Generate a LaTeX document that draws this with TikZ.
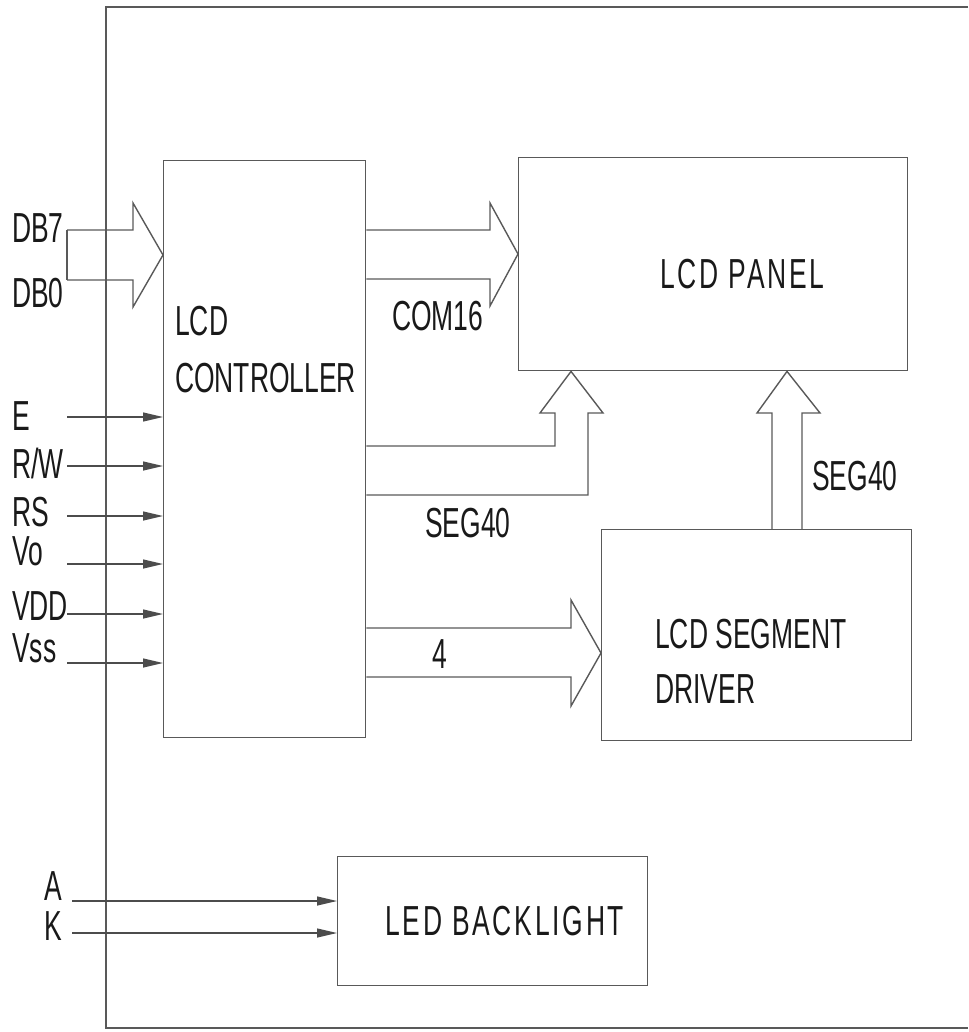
\documentclass[tikz,border=0pt]{standalone}
\usepackage{fontspec}
\setmainfont{Liberation Sans}[FakeStretch=0.63]
\newfontfamily\widefont{Liberation Sans}[FakeStretch=0.63,LetterSpace=6.5]
\usetikzlibrary{arrows.meta}
\tikzset{
  ln/.style={draw=black!65, line width=1.4pt, line join=miter},
  box/.style={ln, rectangle, inner sep=0pt, anchor=north west},
  lbl/.style={inner sep=0pt, anchor=base west, text=black!90, font=\fontsize{42}{48}\selectfont},
  lblc/.style={lbl, anchor=base},
  inarrow/.style={draw=black!70, line width=1.2pt, -{Triangle[length=20pt,width=9pt]}},
}
\begin{document}
\begin{tikzpicture}[x=1pt,y=-1pt]
\useasboundingbox (0,0) rectangle (968,1032);
% outer frame
\draw[ln] (968,7) -- (106,7) -- (106,1028) -- (968,1028);
% boxes
\node[box, minimum width=202pt, minimum height=577pt] (ctrl) at (163,160) {};
\node[box, minimum width=389pt, minimum height=213pt] (panel) at (518,157) {};
\node[box, minimum width=310pt, minimum height=211pt] (drv) at (601,529) {};
\node[box, minimum width=310pt, minimum height=129pt] (led) at (337,856) {};
% box texts
\node[lbl] (t1) at (175,335) {LCD};
\node[lbl] (t2) at (175,392) {CONTROLLER};
\node[lbl, font=\fontsize{42}{48}\widefont] (t3) at (660,288) {LCD PANEL};
\node[lbl] (t4) at (655,648) {LCD SEGMENT};
\node[lbl] (t5) at (655,703) {DRIVER};
\node[lbl, font=\fontsize{42}{48}\widefont] (t6) at (385,935) {LED BACKLIGHT};
% data bus block arrow
\coordinate (db7) at (67,230);
\coordinate (db0) at (67,280);
\draw[ln] (db7) -- (db0);
\draw[ln] (db7) -- (133,230) -- (133,203) -- (ctrl.west |- 0,255) -- (133,307) -- (133,280) -- (db0);
\node[lbl] (ldb7) at (12,243) {DB7};
\node[lbl] (ldb0) at (12,307) {DB0};
% COM16 block arrow
\draw[ln] (ctrl.east |- 0,230) -- (490,230) -- (490,203) -- (panel.west |- 0,254) -- (490,306) -- (490,279) -- (ctrl.east |- 0,279);
\node[lbl] (lcom) at (392,330) {COM16};
% SEG40 controller -> panel
\draw[ln] (ctrl.east |- 0,446) -- (555,446) -- (555,413) -- (540,413) -- (panel.south -| 571,0) -- (603,413) -- (588,413) -- (588,495) -- (ctrl.east |- 0,495);
\node[lbl] (lseg1) at (425,537) {SEG40};
% SEG40 driver -> panel
\draw[ln] (drv.north -| 772,0) -- (772,413) -- (757,413) -- (panel.south -| 787,0) -- (820,413) -- (802,413) -- (drv.north -| 802,0);
\node[lbl] (lseg2) at (812,490) {SEG40};
% 4 arrow controller -> driver
\draw[ln] (ctrl.east |- 0,628) -- (571,628) -- (571,600) -- (drv.west |- 0,653) -- (571,706) -- (571,677) -- (ctrl.east |- 0,677);
\node[lbl] (lfour) at (432,668) {4};
% control inputs
\foreach \nm/\ay/\ty/\tx in {E/417/430/{E}, RW/466/478/{R/W}, RS/516/526/{RS}, Vo/564/565/{Vo}, VDD/614/620/{VDD}, Vss/663/662/{Vss}}{
  \coordinate (in\nm) at (67,\ay);
  \draw[inarrow] (in\nm) -- (in\nm -| ctrl.west);
  \node[lbl] (l\nm) at (12,\ty) {\tx};
}
% backlight inputs
\coordinate (inA) at (72,901);
\coordinate (inK) at (72,933);
\draw[inarrow] (inA) -- (inA -| led.west);
\draw[inarrow] (inK) -- (inK -| led.west);
\node[lblc] (lA) at (53,900) {A};
\node[lblc] (lK) at (53,940) {K};
\end{tikzpicture}
\end{document}
